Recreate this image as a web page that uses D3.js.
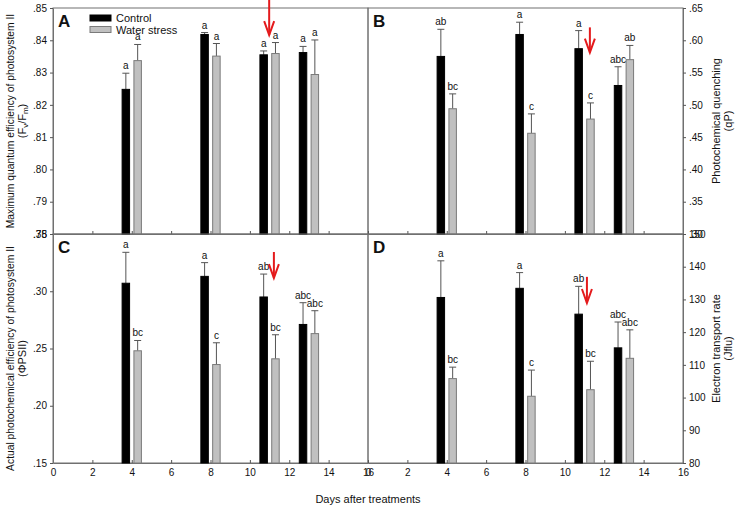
<!DOCTYPE html>
<html>
<head>
<meta charset="utf-8">
<script src="https://d3js.org/d3.v7.min.js"></script>
<style>
  body { margin: 0; background: #fff; }
  text { font-family: Arial, "Liberation Sans", sans-serif; fill: #111; }
  .tick text { font-size: 10px; }
  .sig { font-size: 10px; }
  .ylab { font-size: 11px; }
  .ylab.long { font-size: 10.3px; }
</style>
</head>
<body>
<svg id="chart" width="737" height="509"></svg>
<script>
// sampling days and bar offsets
const days = [4, 8, 11, 13];
const series = ["Control", "Water stress"];

// A: Fv/Fm
const fvfmControl = [0.8248, 0.8418, 0.8355, 0.8362];
const fvfmControlErr = [0.0050, 0.0006, 0.0012, 0.0019];
const fvfmStress = [0.8337, 0.8351, 0.8359, 0.8294];
const fvfmStressErr = [0.0050, 0.0039, 0.0034, 0.0107];
const fvfmLetters = [["a", "a", "a", "a"], ["a", "a", "a", "a"]];

// B: qP
const qpControl = [0.575, 0.609, 0.587, 0.530];
const qpControlErr = [0.042, 0.019, 0.028, 0.029];
const qpStress = [0.494, 0.456, 0.478, 0.570];
const qpStressErr = [0.023, 0.030, 0.025, 0.022];
const qpLetters = [["ab", "a", "a", "abc"], ["bc", "c", "c", "ab"]];

// C: PhiPSII
const psiiControl = [0.307, 0.313, 0.295, 0.271];
const psiiControlErr = [0.027, 0.012, 0.020, 0.019];
const psiiStress = [0.248, 0.236, 0.241, 0.263];
const psiiStressErr = [0.009, 0.019, 0.021, 0.020];
const psiiLetters = [["a", "a", "ab", "abc"], ["bc", "c", "bc", "abc"]];

// D: ETR
const etrControl = [130.6, 133.4, 125.5, 115.2];
const etrControlErr = [11.2, 4.8, 8.5, 7.9];
const etrStress = [105.8, 100.4, 102.4, 112.0];
const etrStressErr = [3.5, 8.0, 8.7, 8.7];
const etrLetters = [["a", "a", "ab", "abc"], ["bc", "c", "bc", "abc"]];

// red arrows: [day, from, to]
const arrowA = [10.98, 0.8526, 0.8416];
const arrowB = [11.27, 0.620, 0.581];
const arrowC = [11.22, 0.3343, 0.3115];
const arrowD = [11.12, 136.9, 128.9];

const svg = d3.select("#chart");
const left = 53, mid = 368, right = 683;
const top1 = 8, mid1 = 234, bot = 463;
const barW = 0.38, offset = 0.3;
const fmtDot = v => d3.format(".2f")(v).replace(/^0/, "");

function panel(opts) {
  const x = d3.scaleLinear().domain([0, 16]).range(opts.xr);
  const y = d3.scaleLinear().domain(opts.yd).range(opts.yr);
  const g = svg.append("g");

  // frame
  g.append("rect")
    .attr("x", opts.xr[0]).attr("y", opts.yr[1])
    .attr("width", opts.xr[1] - opts.xr[0]).attr("height", opts.yr[0] - opts.yr[1])
    .attr("fill", "none").attr("stroke", "#707070").attr("stroke-width", 1);

  // x axis, ticks pointing inward
  const xAxis = d3.axisBottom(x).tickValues(d3.range(0, 17, 2)).tickSizeInner(-3).tickSizeOuter(0).tickPadding(6);
  const xg = g.append("g").attr("transform", `translate(0,${opts.yr[0]})`).call(xAxis);
  if (!opts.xLabels) xg.selectAll("text").remove();

  // y axis, ticks outward
  const yAxis = (opts.side === "left" ? d3.axisLeft(y) : d3.axisRight(y))
    .tickValues(opts.ticks).tickFormat(opts.fmt).tickSizeInner(3).tickSizeOuter(0).tickPadding(3);
  g.append("g")
    .attr("transform", `translate(${opts.side === "left" ? opts.xr[0] : opts.xr[1]},0)`)
    .call(yAxis);
  g.selectAll(".domain").attr("stroke", "#707070");
  g.selectAll(".tick line").attr("stroke", "#555");

  const rows = [];
  series.forEach((s, si) => {
    days.forEach((d, i) => {
      rows.push({
        s: si,
        day: d + (si === 0 ? -offset : offset),
        v: opts.vals[si][i],
        e: opts.errs[si][i],
        lab: opts.letters[si][i]
      });
    });
  });

  // error bars (upper only)
  const eb = g.selectAll(".eb").data(rows).join("g").attr("class", "eb");
  eb.append("line")
    .attr("x1", d => x(d.day)).attr("x2", d => x(d.day))
    .attr("y1", d => y(d.v)).attr("y2", d => y(d.v + d.e))
    .attr("stroke", "#555").attr("stroke-width", 1);
  eb.append("line")
    .attr("x1", d => x(d.day) - 3.5).attr("x2", d => x(d.day) + 3.5)
    .attr("y1", d => y(d.v + d.e)).attr("y2", d => y(d.v + d.e))
    .attr("stroke", "#555").attr("stroke-width", 1);

  // bars
  g.selectAll(".bar").data(rows).join("rect")
    .attr("class", "bar")
    .attr("x", d => x(d.day - barW / 2))
    .attr("width", d => x(barW) - x(0))
    .attr("y", d => y(d.v))
    .attr("height", d => opts.yr[0] - y(d.v))
    .attr("fill", d => d.s === 0 ? "#000" : "#c0c0c0")
    .attr("stroke", d => d.s === 0 ? "#000" : "#7a7a7a")
    .attr("stroke-width", 1);

  // significance letters
  g.selectAll(".sig").data(rows).join("text")
    .attr("class", "sig")
    .attr("x", d => x(d.day))
    .attr("y", d => y(d.v + d.e) - 4)
    .attr("text-anchor", "middle")
    .text(d => d.lab);

  // panel letter
  g.append("text")
    .attr("x", opts.xr[0] + 5).attr("y", opts.yr[1] + 19)
    .attr("font-size", "17px").attr("font-weight", "bold")
    .text(opts.name);

  // red arrow
  const [ad, a0, a1] = opts.arrow;
  const ax = x(ad), ay0 = Math.max(0, y(a0)), ay1 = y(a1);
  g.append("line")
    .attr("x1", ax).attr("x2", ax).attr("y1", ay0).attr("y2", ay1)
    .attr("stroke", "#e41a1c").attr("stroke-width", 2);
  g.append("path")
    .attr("d", `M${ax - 5},${ay1 - 14} L${ax},${ay1} L${ax + 5},${ay1 - 14}`)
    .attr("fill", "none").attr("stroke", "#e41a1c").attr("stroke-width", 2);

  // axis title (two lines, rotated)
  const cy = (opts.yr[0] + opts.yr[1]) / 2 + (opts.titleDy || 0);
  opts.title.forEach((t, k) => {
    const tx = opts.titleX[k];
    const txt = svg.append("text").attr("class", k === 0 && opts.side === "left" ? "ylab long" : "ylab")
      .attr("transform", `translate(${tx},${cy}) rotate(-90)`)
      .attr("text-anchor", "middle").attr("dominant-baseline", "central");
    if (typeof t === "string") txt.text(t);
    else t(txt);
  });
  return g;
}

panel({
  name: "A", xr: [left, mid], yr: [mid1, top1], yd: [0.78, 0.85],
  ticks: d3.range(0.78, 0.8501, 0.01), fmt: fmtDot, side: "left",
  vals: [fvfmControl, fvfmStress], errs: [fvfmControlErr, fvfmStressErr],
  letters: fvfmLetters, arrow: arrowA, xLabels: false,
  titleX: [10, 22], titleDy: 0,
  title: ["Maximum quantum efficiency of photosystem II", t => {
    t.append("tspan").text("(F");
    t.append("tspan").attr("font-size", "8px").attr("dy", 3).text("v");
    t.append("tspan").attr("dy", -3).text("/F");
    t.append("tspan").attr("font-size", "8px").attr("dy", 3).text("m");
    t.append("tspan").attr("dy", -3).text(")");
  }]
});

panel({
  name: "B", xr: [mid, right], yr: [mid1, top1], yd: [0.30, 0.65],
  ticks: d3.range(0.30, 0.6501, 0.05), fmt: fmtDot, side: "right",
  vals: [qpControl, qpStress], errs: [qpControlErr, qpStressErr],
  letters: qpLetters, arrow: arrowB, xLabels: false,
  titleX: [716, 728],
  title: ["Photochemical quenching", "(qP)"]
});

panel({
  name: "C", xr: [left, mid], yr: [bot, mid1], yd: [0.15, 0.35],
  ticks: d3.range(0.15, 0.3501, 0.05), fmt: fmtDot, side: "left",
  vals: [psiiControl, psiiStress], errs: [psiiControlErr, psiiStressErr],
  letters: psiiLetters, arrow: arrowC, xLabels: true,
  titleX: [10, 22], titleDy: 10,
  title: ["Actual photochemical efficiency of photosystem II", "(\u03a6PSII)"]
});

panel({
  name: "D", xr: [mid, right], yr: [bot, mid1], yd: [80, 150],
  ticks: d3.range(80, 151, 10), fmt: d3.format("d"), side: "right",
  vals: [etrControl, etrStress], errs: [etrControlErr, etrStressErr],
  letters: etrLetters, arrow: arrowD, xLabels: true,
  titleX: [716, 728],
  title: ["Electron transport rate", "(Jflu)"]
});

// legend
const legend = svg.append("g").attr("transform", "translate(90,15)");
series.forEach((s, i) => {
  legend.append("rect")
    .attr("x", 0).attr("y", i * 11.5).attr("width", 21).attr("height", 6)
    .attr("fill", i === 0 ? "#000" : "#c0c0c0")
    .attr("stroke", i === 0 ? "#000" : "#7a7a7a");
  legend.append("text")
    .attr("x", 26).attr("y", i * 11.5 + 3)
    .attr("dominant-baseline", "central")
    .attr("font-size", "11px").text(s);
});

// x axis title
svg.append("text")
  .attr("x", mid).attr("y", 503)
  .attr("text-anchor", "middle").attr("font-size", "11px")
  .text("Days after treatments");
</script>
</body>
</html>
